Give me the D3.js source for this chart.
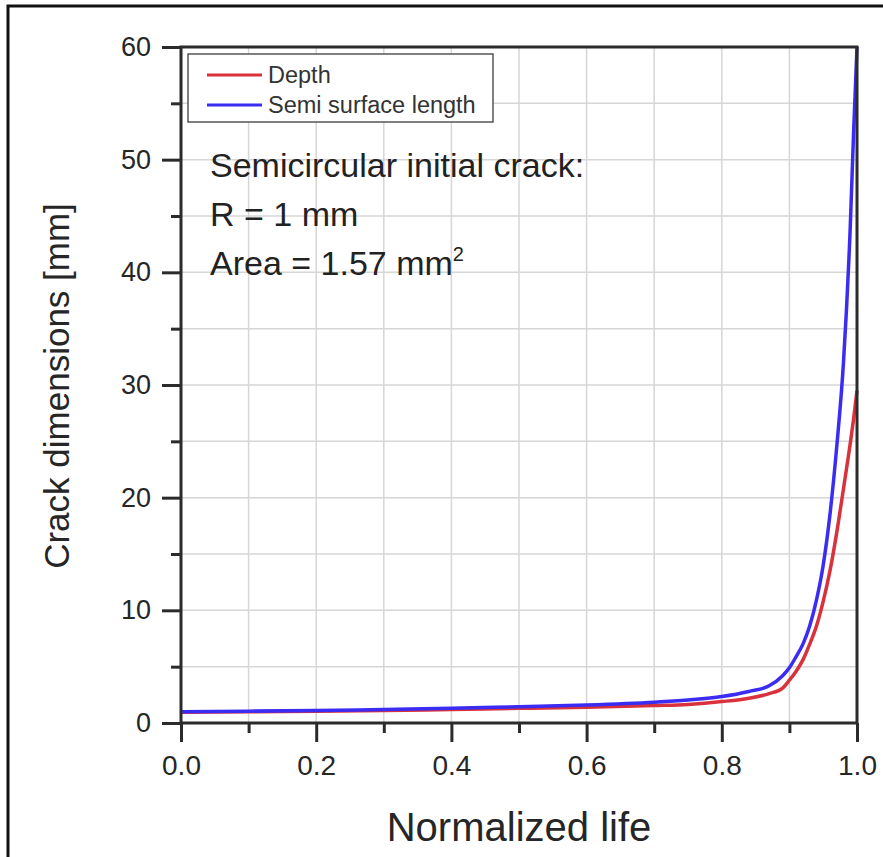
<!DOCTYPE html>
<html>
<head>
    <title>Crack dimensions vs normalized life</title>
    <script src="https://d3js.org/d3.v7.min.js"></script>
    <style>
        body { margin: 0; background: #fff; }
        text { font-family: "Liberation Sans", Arial, sans-serif; fill: #262626; }
        .x-tick { font-size: 28px; }
        .y-tick { font-size: 27px; }
        .axis-title { font-size: 35px; }
        .x-title { font-size: 40px; }
        .legend text { font-size: 23.5px; fill: #333; }
        .note { font-size: 34px; fill: #222; }
    </style>
</head>
<body>
    <svg width="883" height="857"></svg>
    <script>
        // normalized life (x) and the two crack dimensions
        var life      = [0, 0.1, 0.2, 0.3, 0.4, 0.5, 0.6, 0.7, 0.75, 0.8, 0.84, 0.87, 0.89, 0.9, 0.91, 0.92, 0.93, 0.94, 0.95, 0.96, 0.97, 0.98, 0.99, 0.995, 1.0];
        var depth     = [0.95, 1.0, 1.05, 1.1, 1.2, 1.3, 1.4, 1.55, 1.65, 1.9, 2.2, 2.6, 3.1, 3.8, 4.6, 5.6, 7.0, 8.6, 10.8, 13.5, 16.9, 20.8, 24.8, 27.0, 29.5];
        var semiLen   = [1.0, 1.05, 1.1, 1.2, 1.3, 1.45, 1.6, 1.85, 2.05, 2.35, 2.8, 3.3, 4.2, 4.9, 5.9, 7.0, 8.6, 10.9, 14.0, 18.5, 24.5, 32.0, 44.0, 52.5, 60.0];
        var seriesNames = ["Depth", "Semi surface length"];
        var xTicks = [0, 0.2, 0.4, 0.6, 0.8, 1.0];
        var xMinor = [0.1, 0.3, 0.5, 0.7, 0.9];
        var yTicks = [0, 10, 20, 30, 40, 50, 60];
        var yMinor = [5, 15, 25, 35, 45, 55];
        var noteLines = ["Semicircular initial crack:", "R = 1 mm", "Area = 1.57 mm"];

        var svg = d3.select("svg"),
            margin = {top: 47, right: 26, bottom: 134, left: 181},
            width = +svg.attr("width") - margin.left - margin.right,
            height = +svg.attr("height") - margin.top - margin.bottom;

        var x = d3.scaleLinear().domain([0, 1]).range([0, width]);
        var y = d3.scaleLinear().domain([0, 60]).range([height, 0]);
        var color = d3.scaleOrdinal().domain(seriesNames).range(["#d9323c", "#3a2cf2"]);

        // outer picture frame (only left and top edges show)
        svg.append("path")
            .attr("d", "M8,857V6H883")
            .attr("fill", "none")
            .attr("stroke", "#111")
            .attr("stroke-width", 3);

        var g = svg.append("g").attr("transform", "translate(" + margin.left + "," + margin.top + ")");

        // grid at major and minor ticks
        var gridX = xTicks.concat(xMinor).filter(d => d > 0 && d < 1);
        var gridY = yTicks.concat(yMinor).filter(d => d > 0 && d < 60);
        g.append("g").selectAll("line").data(gridX).enter().append("line")
            .attr("x1", d => x(d)).attr("x2", d => x(d))
            .attr("y1", 0).attr("y2", height)
            .attr("stroke", "#d6d6d6").attr("stroke-width", 1.5);
        g.append("g").selectAll("line").data(gridY).enter().append("line")
            .attr("y1", d => y(d)).attr("y2", d => y(d))
            .attr("x1", 0).attr("x2", width)
            .attr("stroke", "#d6d6d6").attr("stroke-width", 1.5);

        // curves
        var rows = life.map((t, i) => ({t: t, depth: depth[i], semi: semiLen[i]}));
        var keys = {"Depth": "depth", "Semi surface length": "semi"};
        seriesNames.forEach(function(name) {
            var line = d3.line()
                .x(d => x(d.t))
                .y(d => y(d[keys[name]]))
                .curve(d3.curveMonotoneX);
            g.append("path")
                .datum(rows)
                .attr("fill", "none")
                .attr("stroke", color(name))
                .attr("stroke-width", 3.5)
                .attr("stroke-linejoin", "round")
                .attr("d", line);
        });

        // axes
        var axisColor = "#2b2b2b";
        var xAxis = g.append("g")
            .attr("transform", `translate(0,${height})`)
            .call(d3.axisBottom(x).tickValues(xTicks).tickSize(19).tickPadding(13).tickFormat(d3.format(".1f")));
        xAxis.select(".domain").remove();
        xAxis.selectAll("line").attr("stroke", axisColor).attr("stroke-width", 3);
        xAxis.selectAll("text").attr("class", "x-tick").attr("dy", "0.71em");

        g.append("g")
            .attr("transform", `translate(0,${height})`)
            .call(d3.axisBottom(x).tickValues(xMinor).tickSize(10).tickFormat(""))
            .call(a => a.select(".domain").remove())
            .selectAll("line").attr("stroke", axisColor).attr("stroke-width", 3);

        var yAxis = g.append("g")
            .call(d3.axisLeft(y).tickValues(yTicks).tickSize(19).tickPadding(11));
        yAxis.select(".domain").remove();
        yAxis.selectAll("line").attr("stroke", axisColor).attr("stroke-width", 3);
        yAxis.selectAll("text").attr("class", "y-tick");

        g.append("g")
            .call(d3.axisLeft(y).tickValues(yMinor).tickSize(10).tickFormat(""))
            .call(a => a.select(".domain").remove())
            .selectAll("line").attr("stroke", axisColor).attr("stroke-width", 3);

        // plot frame
        g.append("rect")
            .attr("width", width).attr("height", height)
            .attr("fill", "none")
            .attr("stroke", axisColor)
            .attr("stroke-width", 3);

        // axis titles
        g.append("text")
            .attr("class", "x-title")
            .attr("x", width / 2)
            .attr("y", height + 118)
            .attr("text-anchor", "middle")
            .text("Normalized life");

        g.append("text")
            .attr("class", "axis-title")
            .attr("transform", "rotate(-90)")
            .attr("x", -height / 2 - 1)
            .attr("y", -112)
            .attr("text-anchor", "middle")
            .text("Crack dimensions [mm]");

        // legend
        var legend = g.append("g").attr("class", "legend").attr("transform", "translate(7,7)");
        legend.append("rect")
            .attr("width", 305).attr("height", 68)
            .attr("fill", "#fff")
            .attr("stroke", "#555")
            .attr("stroke-width", 1.5);
        var item = legend.selectAll("g.item").data(seriesNames).enter().append("g")
            .attr("class", "item")
            .attr("transform", (d, i) => `translate(0, ${21 + i * 30})`);
        item.append("line")
            .attr("x1", 19).attr("x2", 74)
            .attr("stroke", color)
            .attr("stroke-width", 3);
        item.append("text")
            .attr("x", 80)
            .attr("dy", "0.35em")
            .text(d => d);

        // annotation
        var note = g.append("text").attr("class", "note");
        noteLines.forEach(function(s, i) {
            note.append("tspan").attr("x", 29).attr("y", 130 + i * 49).text(s);
            if (i === 2) note.append("tspan").attr("dy", -14).attr("font-size", 20).text("2");
        });
    </script>
</body>
</html>
